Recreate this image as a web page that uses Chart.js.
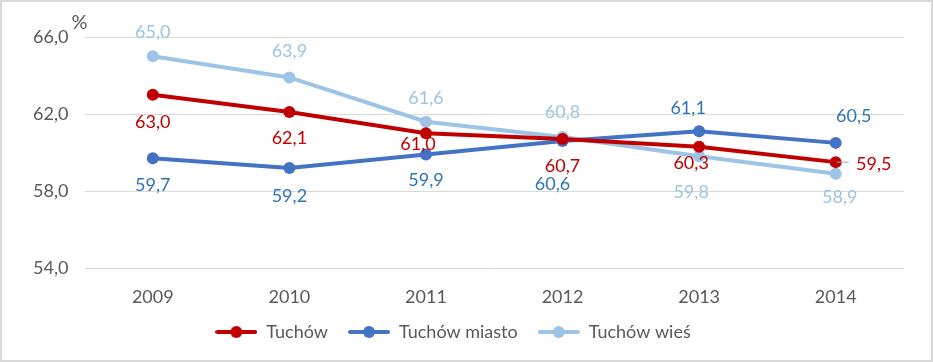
<!DOCTYPE html>
<html>
<head>
<meta charset="utf-8">
<script src="https://cdn.jsdelivr.net/npm/chart.js@4.4.1/dist/chart.umd.min.js"></script>
<style>
    html, body { margin: 0; padding: 0; background: #fff; }
    #wrap { width: 933px; height: 362px; box-sizing: border-box; border: 2px solid #d9d9d9; background: #fff; }
</style>
</head>
<body>
<div id="wrap"><canvas id="chart" width="929" height="358"></canvas></div>
<script>
//-------------------------------------------------------------------------------------------------------
// Tuchów: line chart, 2009-2014
//-------------------------------------------------------------------------------------------------------
const years = ['2009', '2010', '2011', '2012', '2013', '2014'];
const tuchow = [63.0, 62.1, 61.0, 60.7, 60.3, 59.5];
const tuchow_miasto = [59.7, 59.2, 59.9, 60.6, 61.1, 60.5];
const tuchow_wies = [65.0, 63.9, 61.6, 60.8, 59.8, 58.9];
const series_names = ['Tuchów', 'Tuchów miasto', 'Tuchów wieś'];
const y_ticks = [54, 58, 62, 66];

const FONT = 'Lato, "Open Sans", sans-serif';
const line_colors = ['#C00000', '#4472C4', '#9DC3E6'];
const label_colors = ['#C00000', '#2E75B6', '#9DC3E6'];

// where each value label sits relative to its point (dx, dy)
const label_offsets = [
    [[0, 27], [0, 26], [-8, 11], [0, 27], [-8, 16], [38, 2]],
    [[0, 27], [0, 28], [0, 26], [-10, 43], [-11, -23], [18, -27]],
    [[0, -24], [0, -26], [0, -24], [0, -25], [-8, 36], [4, 24]]
];

function legendIcon(color) {
    const c = document.createElement('canvas');
    c.width = 42; c.height = 14;
    const ctx = c.getContext('2d');
    ctx.strokeStyle = color;
    ctx.lineWidth = 4;
    ctx.lineCap = 'round';
    ctx.beginPath(); ctx.moveTo(2, 7); ctx.lineTo(40, 7); ctx.stroke();
    ctx.fillStyle = color;
    ctx.beginPath(); ctx.arc(21, 7, 6, 0, Math.PI * 2); ctx.fill();
    return c;
}

const valueLabels = {
    id: 'valueLabels',
    afterDatasetsDraw(chart) {
        const ctx = chart.ctx;
        ctx.save();
        ctx.font = '18px ' + FONT;
        ctx.textAlign = 'center';
        ctx.textBaseline = 'middle';
        chart.data.datasets.forEach((ds, i) => {
            chart.getDatasetMeta(i).data.forEach((pt, j) => {
                const [dx, dy] = label_offsets[i][j];
                if (i === 0 && j === 5) {
                    ctx.strokeStyle = '#a6a6a6';
                    ctx.lineWidth = 1;
                    ctx.beginPath(); ctx.moveTo(pt.x + 1, pt.y); ctx.lineTo(pt.x + 13, pt.y); ctx.stroke();
                }
                ctx.fillStyle = label_colors[i];
                ctx.fillText(ds.data[j].toFixed(1).replace('.', ','), pt.x + dx, pt.y + dy);
            });
        });
        // unit above the value axis
        ctx.fillStyle = '#595959';
        ctx.font = '20px ' + FONT;
        ctx.fillText('%', chart.chartArea.left - 5, chart.chartArea.top - 14);
        ctx.restore();
    }
};

const datasets = [tuchow, tuchow_miasto, tuchow_wies].map((d, i) => ({
    label: series_names[i],
    data: d,
    borderColor: line_colors[i],
    backgroundColor: line_colors[i],
    pointBackgroundColor: line_colors[i],
    borderWidth: 4,
    pointRadius: 6,
    pointBorderWidth: 0,
    tension: 0,
    fill: false
}));

const chart = new Chart(document.getElementById('chart'), {
    type: 'line',
    data: { labels: years, datasets: datasets },
    options: {
        responsive: false,
        animation: false,
        layout: { padding: { top: 35, right: 27, left: 0, bottom: 9 } },
        scales: {
            x: {
                offset: true,
                afterFit(scale) { scale.height = 35; },
                grid: { display: false },
                border: { display: false },
                ticks: { color: '#595959', font: { size: 18, family: FONT }, padding: 10 }
            },
            y: {
                min: 54,
                max: 66,
                afterFit(scale) { scale.width = 82.5; },
                afterBuildTicks(scale) { scale.ticks = y_ticks.map(v => ({ value: v })); },
                grid: { color: '#d9d9d9', lineWidth: 1, drawTicks: false },
                border: { display: false },
                ticks: {
                    color: '#595959',
                    font: { size: 18, family: FONT },
                    padding: 16,
                    callback: v => v.toFixed(1).replace('.', ',')
                }
            }
        },
        plugins: {
            tooltip: { enabled: false },
            legend: {
                position: 'bottom',
                labels: {
                    color: '#595959',
                    font: { size: 18, family: FONT },
                    usePointStyle: true,
                    pointStyleWidth: 42,
                    padding: 20,
                    generateLabels(chart) {
                        return chart.data.datasets.map((ds, i) => ({
                            text: ds.label,
                            pointStyle: legendIcon(line_colors[i]),
                            fillStyle: line_colors[i],
                            strokeStyle: line_colors[i],
                            fontColor: '#595959',
                            lineWidth: 0,
                            datasetIndex: i
                        }));
                    }
                }
            }
        }
    },
    plugins: [valueLabels]
});
</script>
</body>
</html>
